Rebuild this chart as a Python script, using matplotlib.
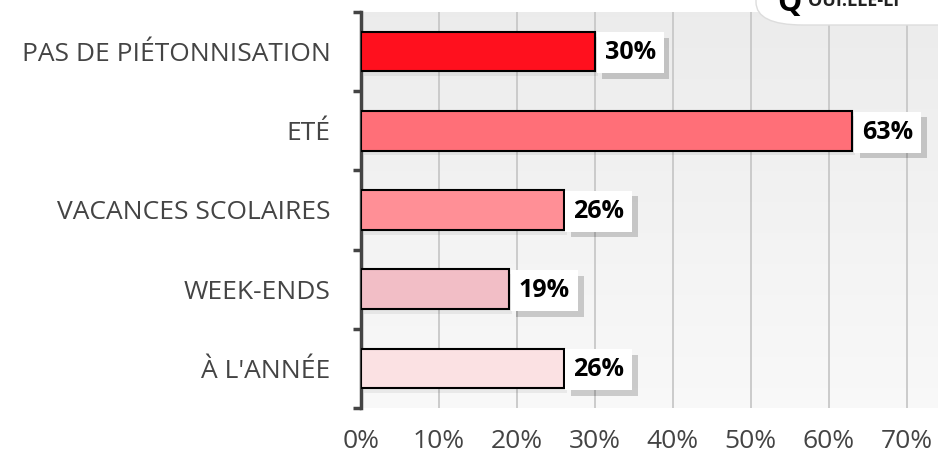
import matplotlib.pyplot as plt
import matplotlib.patheffects as pe
import numpy as np
from matplotlib.patches import FancyBboxPatch

plt.rcParams['font.family'] = ['Open Sans', 'DejaVu Sans']

# --- data ---
categories = ["PAS DE PIÉTONNISATION", "ETÉ", "VACANCES SCOLAIRES", "WEEK-ENDS", "À L'ANNÉE"]
values = [30, 63, 26, 19, 26]
colors = ["#FF101E", "#FF6F78", "#FF8F96", "#F2BEC6", "#FBE1E3"]
xticks = [0, 10, 20, 30, 40, 50, 60, 70]
xtick_labels = ["0%", "10%", "20%", "30%", "40%", "50%", "60%", "70%"]

fig = plt.figure(figsize=(9.38, 4.58), dpi=100)
ax = fig.add_axes([361 / 938, 1 - 408 / 458, 1 - 361 / 938, (408 - 12) / 458])

n = len(categories)
ypos = np.arange(n)[::-1]

# background gradient
grad = np.linspace(0.925, 0.975, 256).reshape(-1, 1)
ax.imshow(np.dstack([grad, grad, grad]), aspect='auto', extent=[0, 74, -0.5, n - 0.5],
          origin='upper', zorder=0)

# bar shadows + bars
ax.barh(ypos - 0.06, values, height=0.5, left=0.4, color='#000000', alpha=0.06, zorder=2)
ax.barh(ypos, values, height=0.5, color=colors, edgecolor='black', linewidth=1.5, zorder=3)

for y, v in zip(ypos, values):
    t = ax.annotate(f"{v}%", xy=(v, y), xytext=(7, -1), textcoords='offset points',
                    ha='left', va='center', fontsize=18, fontweight='bold', color='black',
                    bbox=dict(boxstyle='square,pad=0.32', fc='white', ec='none'), zorder=5)
    t.get_bbox_patch().set_path_effects([
        pe.SimplePatchShadow(offset=(4, -4), shadow_rgbFace='#000000', alpha=0.18),
        pe.Normal()])

ax.set_xlim(0, 74)
ax.set_ylim(-0.5, n - 0.5)

ax.set_xticks(xticks)
ax.set_xticklabels(xtick_labels, fontsize=19, color='#444444')
ax.tick_params(axis='x', length=0, pad=15)
ax.grid(axis='x', color='#c8c8c8', linewidth=1.3, zorder=1)

ax.set_yticks(ypos)
ax.set_yticklabels(categories, fontsize=19, color='#444444')
ax.tick_params(axis='y', which='major', length=0, pad=22)
ax.set_yticks(np.arange(-0.5, n, 1.0), minor=True)
ax.tick_params(axis='y', which='minor', length=6, width=2.5, color='#444444')

for s in ['top', 'right', 'bottom']:
    ax.spines[s].set_visible(False)
ax.spines['left'].set_color('#444444')
ax.spines['left'].set_linewidth(2.5)
ax.set_axisbelow(True)

# logo box at top right (partially cut, as in the source)
logo = FancyBboxPatch((756 / 938, 1 - 25 / 458), 0.3, 0.3, boxstyle='round,pad=0,rounding_size=0.05',
                      transform=fig.transFigure, fc='white', ec='#dddddd', lw=1, zorder=10)
fig.patches.append(logo)
fig.text(789 / 938, 1 - 3 / 458, "Q", fontsize=22, fontweight='bold', color='black',
         ha='center', va='center', zorder=11)
fig.text(808 / 938, 1 - 1 / 458, "OUI.LLE-LI", fontsize=13, fontweight='bold', color='#222222',
         ha='left', va='center', zorder=11)

fig.savefig("out.png", dpi=100)
